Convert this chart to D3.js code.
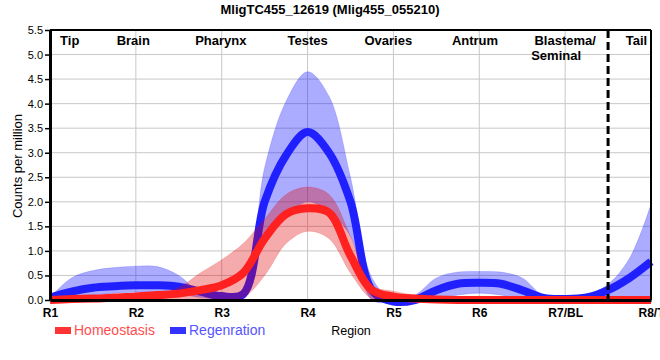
<!DOCTYPE html>
<html>
<head>
<meta charset="utf-8">
<script src="https://cdn.jsdelivr.net/npm/d3@7"></script>
<style>
  body { margin: 0; background: #fff; }
  text { font-family: "Liberation Sans", Arial, sans-serif; }
</style>
</head>
<body>
<div id="plot"></div>
<script>
// Data (x positions in region units, R1 = 0 ... R8/T = 7)
var xPos = [0, 0.25, 0.5, 0.75, 1, 1.25, 1.5, 1.75, 2, 2.25, 2.5, 2.75, 3, 3.25, 3.5, 3.75,
            4, 4.25, 4.5, 4.75, 5, 5.25, 5.5, 5.75, 6, 6.25, 6.5, 6.75, 7];

var homeoMean = [0.0, 0.02, 0.03, 0.05, 0.07, 0.1, 0.13, 0.2, 0.3, 0.55, 1.25, 1.75, 1.87, 1.78, 0.9, 0.2,
                 0.07, 0.03, 0.01, 0.0, 0.0, 0.0, 0.0, 0.0, 0.0, 0.0, 0.0, 0.0, 0.0];
var homeoLow  = [-0.02, 0.0, 0.0, 0.0, 0.0, 0.0, 0.0, 0.0, 0.0, 0.05, 0.5, 1.15, 1.4, 1.25, 0.55, 0.02,
                 0.0, -0.03, -0.03, -0.03, -0.03, -0.03, -0.03, -0.03, -0.04, -0.03, -0.03, -0.03, -0.03];
var homeoHigh = [0.03, 0.05, 0.07, 0.09, 0.1, 0.13, 0.25, 0.55, 0.82, 1.15, 1.65, 2.15, 2.3, 2.15, 1.3, 0.3,
                 0.18, 0.1, 0.05, 0.03, 0.02, 0.02, 0.02, 0.02, 0.02, 0.02, 0.02, 0.02, 0.02];

var regenMean = [0.05, 0.17, 0.25, 0.28, 0.3, 0.3, 0.27, 0.17, 0.08, 0.12, 2.0, 2.95, 3.42, 3.0, 2.0, 0.2,
                 -0.03, 0.0, 0.2, 0.33, 0.35, 0.33, 0.2, 0.04, 0.02, 0.05, 0.2, 0.45, 0.78];
var regenLow  = [0.0, 0.05, 0.1, 0.14, 0.16, 0.15, 0.12, 0.05, 0.02, 0.05, 1.2, 1.7, 2.0, 1.8, 1.3, 0.0,
                 -0.05, -0.05, 0.0, 0.1, 0.14, 0.1, 0.0, 0.0, 0.0, 0.0, 0.0, 0.0, 0.0];
var regenHigh = [0.05, 0.45, 0.6, 0.66, 0.69, 0.68, 0.5, 0.15, 0.1, 0.2, 2.7, 4.05, 4.65, 4.15, 2.5, 0.45,
                 0.0, 0.1, 0.45, 0.57, 0.58, 0.57, 0.45, 0.08, 0.03, 0.1, 0.32, 0.85, 1.95];

// Axis ticks and labels
var xTicks = [0, 1, 2, 3, 4, 5, 6, 7];
var xTickLabels = ["R1", "R2", "R3", "R4", "R5", "R6", "R7/BL", "R8/T"];
var yTicks = [0, 0.5, 1, 1.5, 2, 2.5, 3, 3.5, 4, 4.5, 5, 5.5];

// Region names along the top
var regionNames = ["Tip", "Brain", "Pharynx", "Testes", "Ovaries", "Antrum", "Blastema/|Seminal", "Tail"];
var regionPos = [0.23, 0.97, 1.99, 3.0, 3.94, 4.95, 6.0, 6.83];
var dividerPos = 6.5;

var seriesNames = ["Homeostasis", "Regenration"];

// Dimensions
var W = 660, H = 360;
var margin = {top: 30, right: 9, bottom: 60, left: 50};

var svg = d3.select("#plot")
    .append("svg")
        .attr("width", W)
        .attr("height", H);

var x = d3.scaleLinear()
    .domain([0, 7])
    .range([margin.left, W - margin.right]);
var y = d3.scaleLinear()
    .domain([0, 5.5])
    .range([H - margin.bottom, margin.top]);

// Grid
svg.append("g")
    .selectAll("line")
    .data(yTicks.slice(1))
    .enter().append("line")
        .attr("x1", x(0)).attr("x2", x(7))
        .attr("y1", function(d) { return y(d); })
        .attr("y2", function(d) { return y(d); })
        .attr("stroke", "#c8c8c8")
        .attr("stroke-width", 1);
svg.append("g")
    .selectAll("line")
    .data(xTicks.slice(1, -1))
    .enter().append("line")
        .attr("y1", y(0)).attr("y2", y(5.5))
        .attr("x1", function(d) { return x(d); })
        .attr("x2", function(d) { return x(d); })
        .attr("stroke", "#c8c8c8")
        .attr("stroke-width", 1);

// Bands and lines
var curve = d3.curveCatmullRom.alpha(0.5);
var band = function(lo, hi) {
    return d3.area()
        .x(function(d, i) { return x(xPos[i]); })
        .y0(function(d, i) { return y(lo[i]); })
        .y1(function(d, i) { return y(hi[i]); })
        .curve(curve);
};
var line = function(vals) {
    return d3.line()
        .x(function(d, i) { return x(xPos[i]); })
        .y(function(d, i) { return y(vals[i]); })
        .curve(curve);
};

svg.append("path")
    .attr("d", band(regenLow, regenHigh)(xPos))
    .attr("fill", "rgba(0,0,255,0.33)")
    .attr("stroke", "rgba(0,0,255,0.15)");
svg.append("path")
    .attr("d", line(regenMean)(xPos))
    .attr("fill", "none")
    .attr("stroke", "#2020ff")
    .attr("stroke-width", 8);
svg.append("path")
    .attr("d", band(homeoLow, homeoHigh)(xPos))
    .attr("fill", "rgba(225,0,0,0.33)")
    .attr("stroke", "rgba(225,0,0,0.15)");
svg.append("path")
    .attr("d", line(homeoMean)(xPos))
    .attr("fill", "none")
    .attr("stroke", "#ff2020")
    .attr("stroke-width", 8);

// Frame (top and right)
svg.append("line")
    .attr("x1", x(0)).attr("x2", x(7))
    .attr("y1", y(5.5)).attr("y2", y(5.5))
    .attr("stroke", "#000").attr("stroke-width", 2);
svg.append("line")
    .attr("x1", x(7)).attr("x2", x(7))
    .attr("y1", y(5.5)).attr("y2", y(0))
    .attr("stroke", "#000").attr("stroke-width", 2);

// Divider
svg.append("line")
    .attr("x1", x(dividerPos)).attr("x2", x(dividerPos))
    .attr("y1", y(5.5)).attr("y2", y(0))
    .attr("stroke", "#000")
    .attr("stroke-width", 3)
    .attr("stroke-dasharray", "8,4");

// Y axis
var yAxis = svg.append("g")
    .attr("transform", "translate(" + margin.left + ",0)")
    .call(d3.axisLeft(y).tickValues(yTicks).tickFormat(d3.format(".1f")).tickSize(5).tickSizeOuter(0));
yAxis.select(".domain").attr("stroke-width", 3);
yAxis.selectAll(".tick line").attr("stroke-width", 1.5);
yAxis.selectAll("text")
    .style("font-size", "11px")
    .attr("fill", "#000")
    .attr("x", -7);

// X axis
var xAxis = svg.append("g")
    .attr("transform", "translate(0," + y(0) + ")")
    .call(d3.axisBottom(x).tickValues(xTicks)
        .tickFormat(function(d, i) { return xTickLabels[i]; })
        .tickSize(0).tickSizeOuter(0));
xAxis.select(".domain").attr("stroke-width", 3);
xAxis.selectAll("text")
    .style("font-size", "12px")
    .style("font-weight", "bold")
    .attr("fill", "#000")
    .attr("y", 8);

// Region names
var names = svg.append("g")
    .selectAll("text")
    .data(regionNames)
    .enter().append("text")
        .attr("y", 45)
        .attr("text-anchor", "middle")
        .style("font-size", "13px")
        .style("font-weight", "bold");
names.each(function(d, i) {
    var parts = d.split("|");
    var t = d3.select(this);
    parts.forEach(function(p, k) {
        t.append("tspan")
            .attr("x", x(regionPos[i]) - (k > 0 ? 9 : 0))
            .attr("dy", k > 0 ? 15 : 0)
            .text(p);
    });
});

// Title
svg.append("text")
    .attr("x", W / 2)
    .attr("y", 14)
    .attr("text-anchor", "middle")
    .style("font-size", "13px")
    .style("font-weight", "bold")
    .text("MligTC455_12619 (Mlig455_055210)");

// Axis titles
svg.append("text")
    .attr("transform", "rotate(-90)")
    .attr("x", -166)
    .attr("y", 22)
    .attr("text-anchor", "middle")
    .style("font-size", "13px")
    .text("Counts per million");
svg.append("text")
    .attr("x", 351)
    .attr("y", 335)
    .attr("text-anchor", "middle")
    .style("font-size", "12.5px")
    .text("Region");

// Legend
var legendX = [55, 170];
var legendRect = ["#ff3333", "#3333ff"];
var legendText = ["#ff4d4d", "#5555ff"];
var legend = svg.append("g")
    .selectAll("g")
    .data(seriesNames)
    .enter().append("g")
        .attr("transform", function(d, i) { return "translate(" + legendX[i] + ",327)"; });
legend.append("rect")
    .attr("width", 16)
    .attr("height", 7)
    .attr("fill", function(d, i) { return legendRect[i]; });
legend.append("text")
    .attr("x", 19)
    .attr("y", 8)
    .style("font-size", "14px")
    .attr("fill", function(d, i) { return legendText[i]; })
    .text(function(d) { return d; });
</script>
</body>
</html>
